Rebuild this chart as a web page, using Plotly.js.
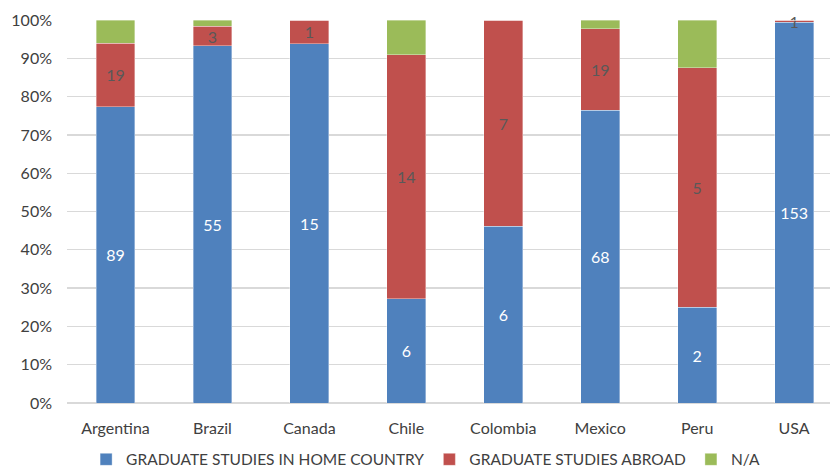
<!DOCTYPE html>
<html>
<head>
<meta charset="utf-8">
<script src="https://cdn.plot.ly/plotly-3.0.1.min.js"></script>
<style>
  html, body { margin: 0; padding: 0; background: #fff; }
  #chart { width: 830px; height: 473px; }
</style>
</head>
<body>
<div id="chart"></div>
<script>
// Graduates by country and where they did their graduate studies (counts)
const countries = ["Argentina", "Brazil", "Canada", "Chile", "Colombia", "Mexico", "Peru", "USA"];
const homeCountry = [89, 55, 15, 6, 6, 68, 2, 153];
const abroad = [19, 3, 1, 14, 7, 19, 5, 1];
const notAvailable = [7, 1, 0, 2, 0, 2, 1, 0];

const FONT = "Lato, 'Open Sans', sans-serif";
const segLine = { color: "rgba(255,255,255,0.6)", width: 0.6 };

const traces = [
  {
    type: "bar",
    name: "GRADUATE STUDIES IN HOME COUNTRY",
    x: countries,
    y: homeCountry,
    text: homeCountry.map(String),
    textposition: "inside",
    insidetextanchor: "middle",
    textangle: 0,
    constraintext: "none",
    cliponaxis: false,
    textfont: { family: FONT, size: 16, color: "#ffffff" },
    marker: { color: "#4F81BD", line: segLine },
    hoverinfo: "x+y+name"
  },
  {
    type: "bar",
    name: "GRADUATE STUDIES ABROAD",
    x: countries,
    y: abroad,
    text: abroad.map(String),
    textposition: "inside",
    insidetextanchor: "middle",
    textangle: 0,
    constraintext: "none",
    cliponaxis: false,
    textfont: { family: FONT, size: 16, color: "#595959" },
    marker: { color: "#C0504D", line: segLine },
    hoverinfo: "x+y+name"
  },
  {
    type: "bar",
    name: "N/A",
    x: countries,
    y: notAvailable,
    textposition: "none",
    marker: { color: "#9BBB59", line: segLine },
    hoverinfo: "x+y+name"
  }
];

const layout = {
  width: 830,
  height: 473,
  barmode: "stack",
  barnorm: "percent",
  bargap: 0.6,
  paper_bgcolor: "#ffffff",
  plot_bgcolor: "#ffffff",
  margin: { l: 67, r: 0, t: 20, b: 70, autoexpand: false },
  font: { family: FONT, size: 16, color: "#595959" },
  uniformtext: { minsize: 16, mode: "show" },
  xaxis: {
    type: "category",
    range: [-0.5, 7.37],
    showgrid: false,
    showline: false,
    zeroline: false,
    ticks: "",
    ticklabelstandoff: 14,
    tickfont: { family: FONT, size: 16, color: "#404040" },
    fixedrange: true
  },
  yaxis: {
    range: [0, 100],
    dtick: 10,
    ticksuffix: "%",
    showgrid: true,
    gridcolor: "#d9d9d9",
    gridwidth: 1.3,
    zeroline: true,
    zerolinecolor: "#d9d9d9",
    zerolinewidth: 1.3,
    showline: false,
    ticks: "",
    ticklabelstandoff: 14,
    tickfont: { family: FONT, size: 16, color: "#404040" },
    fixedrange: true
  },
  showlegend: true,
  legend: {
    orientation: "h",
    x: 0.47,
    xanchor: "center",
    yref: "container",
    y: 0.028,
    yanchor: "middle",
    font: { family: FONT, size: 15.5, color: "#404040" },
    itemwidth: 30,
    traceorder: "normal"
  }
};

Plotly.newPlot("chart", traces, layout, { displayModeBar: false, staticPlot: true });
</script>
</body>
</html>
